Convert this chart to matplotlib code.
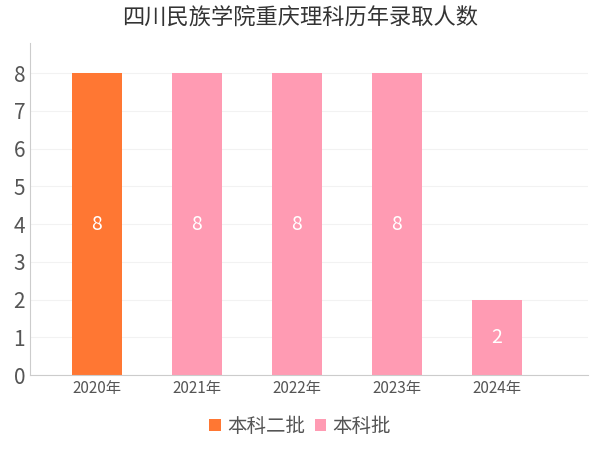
import matplotlib
matplotlib.use('Agg')
from matplotlib import pyplot as plt

plt.rcParams['font.sans-serif'] = ['Noto Sans CJK SC']

years = ['2020年', '2021年', '2022年', '2023年', '2024年']
batch1 = [8, 0, 0, 0, 0]   # 本科二批
batch2 = [0, 8, 8, 8, 2]   # 本科批

fig = plt.figure(figsize=(6, 4.5), dpi=100)
ax = fig.add_axes([0.05, 1 - 375 / 450, 0.93, (375 - 43) / 450])
x = range(len(years))
b1 = ax.bar(x, batch1, width=0.5, color='#FF7733', label='本科二批')
b2 = ax.bar(x, batch2, width=0.5, bottom=batch1, color='#FF9BB3', label='本科批')
for i in x:
    v = batch1[i] + batch2[i]
    ax.text(i, v / 2, str(v), ha='center', va='center', color='white', fontsize=14)

ax.set_xlim(-0.67, 4.91)
ax.set_ylim(0, 8.8)
ax.set_yticks(range(9))
ax.set_xticks(list(x))
ax.set_xticklabels(years, fontsize=11, color='#555555')
ax.tick_params(axis='y', labelsize=15, colors='#555555', length=0)
ax.tick_params(axis='x', length=0)
ax.yaxis.grid(True, color='#f2f2f2', linewidth=0.8)
ax.set_axisbelow(True)
for s in ['top', 'right']:
    ax.spines[s].set_visible(False)
ax.spines['left'].set_color('#cccccc')
ax.spines['bottom'].set_color('#cccccc')

fig.suptitle('四川民族学院重庆理科历年录取人数', y=0.985, fontsize=16, color='#333333')
fig.legend(loc='lower center', ncol=2, frameon=False, fontsize=14, bbox_to_anchor=(0.5, -0.01),
           handlelength=0.6, handleheight=0.6, columnspacing=0.5, handletextpad=0.3,
           labelcolor='#555555')
fig.savefig('out.png')
